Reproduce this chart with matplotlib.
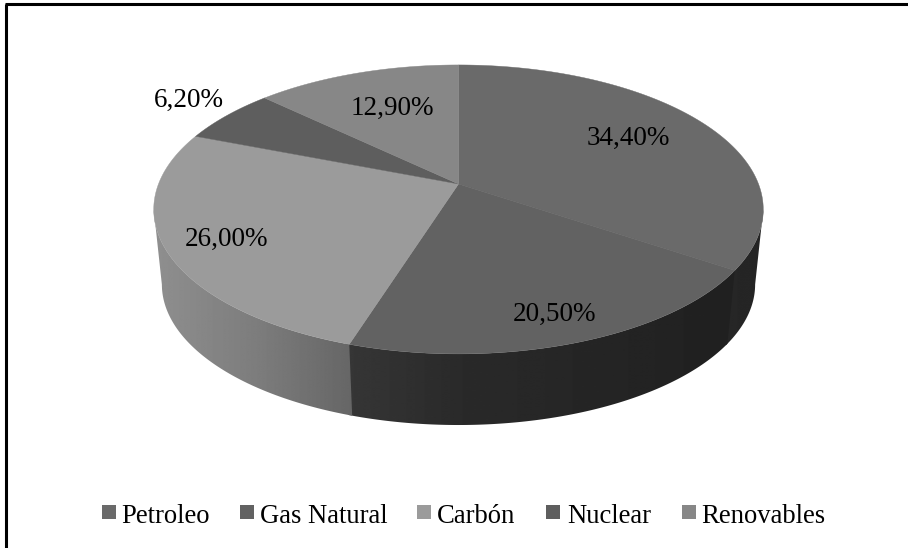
import numpy as np
import matplotlib
matplotlib.use("Agg")
import matplotlib.pyplot as plt
from matplotlib.patches import Rectangle, Polygon

categories = ["Petroleo", "Gas Natural", "Carbón", "Nuclear", "Renovables"]
values = [34.4, 20.5, 26.0, 6.2, 12.9]
labels = ["34,40%", "20,50%", "26,00%", "6,20%", "12,90%"]
top_colors = ["#6a6a6a", "#626262", "#9b9b9b", "#5e5e5e", "#878787"]
wall_stops = [([735, 763], [0x26, 0x24]),
              ([352, 458, 735], [0x36, 0x2a, 0x20]),
              ([154, 260, 352], [0x8f, 0x7c, 0x66])]
legend_x = [102, 240, 417, 546, 682]
legend_text_x = [121.5, 259.5, 436.5, 567, 701.5]

W, H = 908, 548
K = 0.176
fig = plt.figure(figsize=(W / 100, H / 100), dpi=100)
ax = fig.add_axes([0, 0, 1, 1])
ax.set_xlim(0, W)
ax.set_ylim(H, 0)
ax.axis("off")
plt.rcParams["font.family"] = ["Liberation Serif"]


def top(t):
    d = 1 + K * np.cos(t)
    return 458.5 + 300 * np.sin(t) / d, 184 - 140 * np.cos(t) / d


def low(t):
    d = 1 + K * np.cos(t)
    return 458.5 + 292 * np.sin(t) / d, 259.6 - 136.3 * np.cos(t) / d


edges = np.radians(np.concatenate([[0], np.cumsum(values)]) * 3.6)

# side walls: horizontal grey ramp clipped to each wedge's visible wall
for a, b, (sx, sg) in zip(edges[:3], edges[1:4], wall_stops):
    ts = np.linspace(a, b + 0.012, 400)
    ts = ts[np.cos(ts) <= -K]
    xt, yt = top(ts)
    xl, yl = low(ts)
    poly = Polygon(np.c_[np.r_[xt, xl[::-1]], np.r_[yt, yl[::-1]]],
                   closed=True, facecolor="none", edgecolor="none",
                   transform=ax.transData)
    ax.add_patch(poly)
    x0, x1 = np.floor(min(xt.min(), xl.min())), np.ceil(max(xt.max(), xl.max()))
    px = np.arange(x0, x1 + 1)
    ramp = np.interp(px, sx, sg)[None, :]
    im = ax.imshow(ramp, cmap="gray", vmin=0, vmax=255, aspect="auto",
                   extent=(x0, x1, 430, 200), interpolation="bilinear", zorder=2)
    im.set_clip_path(poly)
ax.set_xlim(0, W)
ax.set_ylim(H, 0)

# top faces
for a, b, c in zip(edges[:-1], edges[1:], top_colors):
    ts = np.linspace(a, b, 200)
    xs, ys = top(ts)
    ax.fill(np.r_[458.5, xs], np.r_[184, ys], facecolor=c, edgecolor=c,
            linewidth=0.3, zorder=3)

label_xy = [(628, 138), (554, 314), (226, 239), (189, 100), (392, 108)]
for s, (x, y) in zip(labels, label_xy):
    ax.text(x, y, s, fontsize=19.5, family="Liberation Serif", color="black",
            ha="center", va="center", zorder=5)

for name, c, x, tx in zip(categories, top_colors, legend_x, legend_text_x):
    ax.add_patch(Rectangle((x, 505), 14, 14, facecolor=c, edgecolor="none"))
    ax.text(tx, 523, name, fontsize=19.2, family="Liberation Serif",
            color="black", ha="left", va="baseline")

ax.plot([6, 6], [548, 4], color="black", lw=2.2, solid_capstyle="butt", zorder=6)
ax.plot([5, 908], [4, 4], color="black", lw=2.2, solid_capstyle="butt", zorder=6)

fig.savefig("out.png", dpi=100)
